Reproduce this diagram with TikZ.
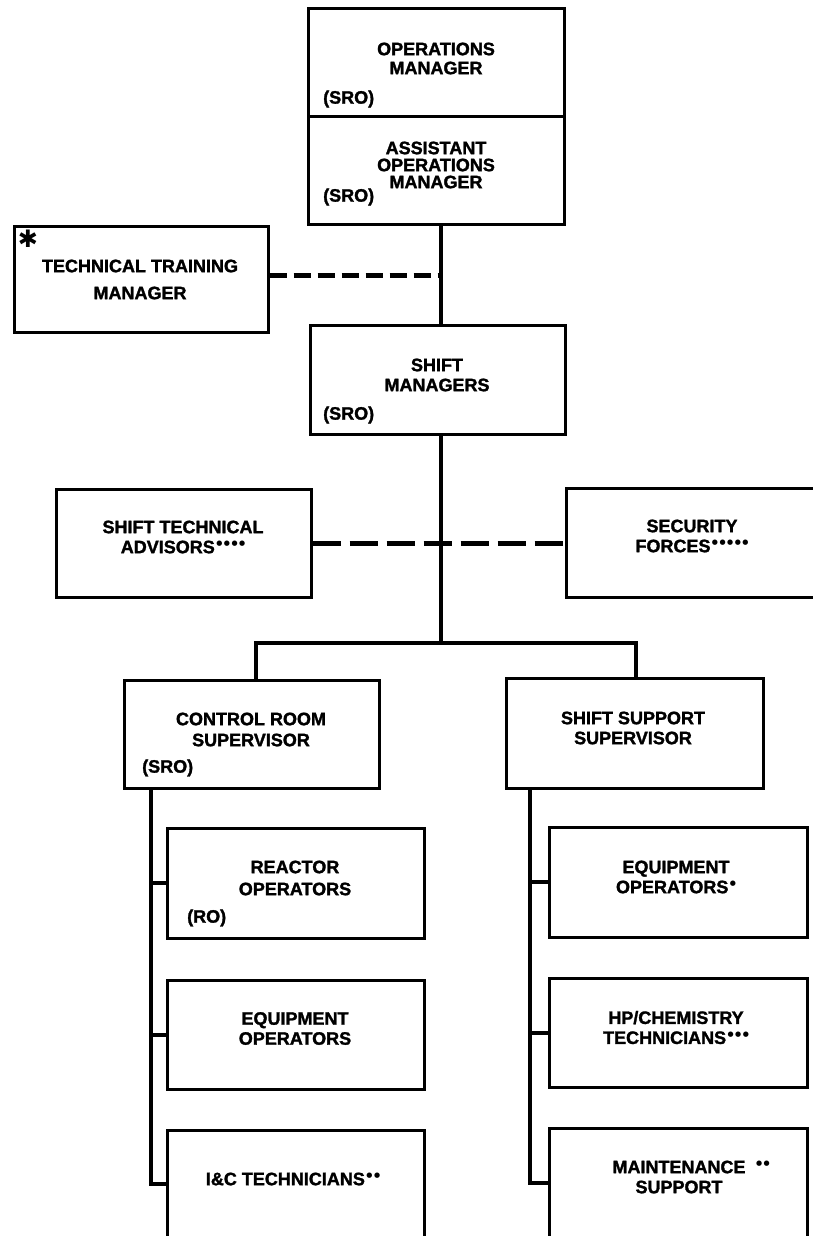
\documentclass[tikz,border=0pt]{standalone}
\usepackage{fontspec}
\usepackage{graphicx}
\setmainfont{Liberation Sans}[BoldFeatures={FakeBold=1.6}]
\newfontfamily\symfont{DejaVu Sans}
\newcommand{\ftdot}{\kern1.5pt\raisebox{7.5pt}{\symfont\fontsize{7}{7}\selectfont ●}}
\begin{document}
\begin{tikzpicture}[x=1pt,y=-1pt,
  box/.style={draw,line width=3pt,rectangle,inner sep=0pt},
  lbl/.style={font=\fontsize{18}{19}\selectfont\bfseries,align=center,inner sep=0pt},
  tag/.style={font=\fontsize{18}{19}\selectfont\bfseries,anchor=west,inner sep=0pt},
  link/.style={line width=4pt},
  dlink/.style={line width=5pt,dash pattern=on 17pt off 7pt},
  dlinklong/.style={line width=5pt,dash pattern=on 28pt off 9pt}]
\useasboundingbox (0,0) rectangle (813,1236);
% boxes
\node[box,minimum width=256pt,minimum height=108pt] (om) at (436,63) {};
\node[box,minimum width=256pt,minimum height=107pt] (aom) at (436,170.5) {};
\node[box,minimum width=254pt,minimum height=106pt] (ttm) at (141,279) {};
\node[box,minimum width=255pt,minimum height=109pt] (sm) at (437.5,379.5) {};
\node[box,minimum width=255pt,minimum height=108pt] (sta) at (183.5,543) {};
\node[box,minimum width=264pt,minimum height=109pt] (sf) at (698,542.5) {};
\node[box,minimum width=255pt,minimum height=108pt] (crs) at (251.5,734) {};
\node[box,minimum width=257pt,minimum height=110pt] (sss) at (634.5,733) {};
\node[box,minimum width=257pt,minimum height=110pt] (ro) at (295.5,883) {};
\node[box,minimum width=257pt,minimum height=109pt] (eol) at (295.5,1034.5) {};
\node[box,minimum width=257pt,minimum height=120pt] (ic) at (295.5,1190) {};
\node[box,minimum width=258pt,minimum height=110pt] (eor) at (678,882) {};
\node[box,minimum width=258pt,minimum height=109pt] (hp) at (678,1032.5) {};
\node[box,minimum width=258pt,minimum height=122pt] (ms) at (678,1189) {};
% connectors
\coordinate (sp) at (441,0);
\coordinate (j1) at (441,275);
\coordinate (bar) at (441,643);
\coordinate (bl) at (256,643);
\coordinate (br) at (636,643);
\draw[link] (aom.south -| sp) -- (sm.north -| sp);
\draw[dlink] (ttm.east |- j1) -- (j1);
\draw[link] (sm.south -| sp) -- (bar);
\draw[link] (crs.north -| bl) -- (bl) -- (br) -- (sss.north -| br);
\draw[dlinklong] (sta.east) -- (sf.west |- sta.east);
\coordinate (ls) at (151,0);
\coordinate (l3) at (151,1184);
\draw[link] (crs.south -| ls) -- (l3) -- (l3 -| ic.west);
\draw[link] (ro.west -| ls) -- (ro.west);
\draw[link] (eol.west -| ls) -- (eol.west);
\coordinate (rs) at (530,0);
\coordinate (r3) at (530,1183);
\draw[link] (sss.south -| rs) -- (r3) -- (r3 -| ms.west);
\draw[link] (eor.west -| rs) -- (eor.west);
\draw[link] (hp.west -| rs) -- (hp.west);
% texts
\node[lbl] (tom) at (436,58.5) {OPERATIONS\\MANAGER};
\node[tag] (som) at (323,99) {(SRO)};
\node[lbl,font=\fontsize{18}{17}\selectfont\bfseries] (taom) at (436,165) {ASSISTANT\\OPERATIONS\\MANAGER};
\node[tag] (saom) at (323,197) {(SRO)};
\node[lbl,font=\fontsize{18}{27}\selectfont\bfseries] (tttm) at (140,279.5) {TECHNICAL TRAINING\\MANAGER};
\node[inner sep=0pt,font=\symfont\fontsize{24}{24}\selectfont\bfseries] (star) at (28,239) {✱};
\node[lbl,font=\fontsize{18}{20}\selectfont\bfseries] (tsm) at (437,375) {SHIFT\\MANAGERS};
\node[tag] (ssm) at (323,415) {(SRO)};
\node[lbl,font=\fontsize{18}{20}\selectfont\bfseries] (tsta) at (183,537) {SHIFT TECHNICAL\\ADVISORS\ftdot\ftdot\ftdot\ftdot};
\node[lbl,font=\fontsize{18}{20}\selectfont\bfseries] (tsf) at (692,536) {SECURITY\\FORCES\ftdot\ftdot\ftdot\ftdot\ftdot};
\node[lbl,font=\fontsize{18}{21}\selectfont\bfseries] (tcrs) at (251,729.5) {CONTROL ROOM\\SUPERVISOR};
\node[tag] (scrs) at (142,768) {(SRO)};
\node[lbl,font=\fontsize{18}{20}\selectfont\bfseries] (tsss) at (633,728) {SHIFT SUPPORT\\SUPERVISOR};
\node[lbl,font=\fontsize{18}{22}\selectfont\bfseries] (tro) at (295,878) {REACTOR\\OPERATORS};
\node[tag] (sro) at (187,918) {(RO)};
\node[lbl,font=\fontsize{18}{20}\selectfont\bfseries] (teol) at (295,1028.5) {EQUIPMENT\\OPERATORS};
\node[lbl] (tic) at (293,1179) {I\&C TECHNICIANS\ftdot\ftdot};
\node[lbl,font=\fontsize{18}{20}\selectfont\bfseries] (teor) at (676,877) {EQUIPMENT\\OPERATORS\ftdot};
\node[lbl,font=\fontsize{18}{20}\selectfont\bfseries] (thp) at (676,1027.5) {HP/CHEMISTRY\\TECHNICIANS\ftdot\ftdot\ftdot};
\node[lbl,font=\fontsize{18}{20}\selectfont\bfseries] (tms) at (679,1177) {MAINTENANCE\rlap{\hspace{9pt}\ftdot\ftdot}\\SUPPORT};
\end{tikzpicture}
\end{document}
